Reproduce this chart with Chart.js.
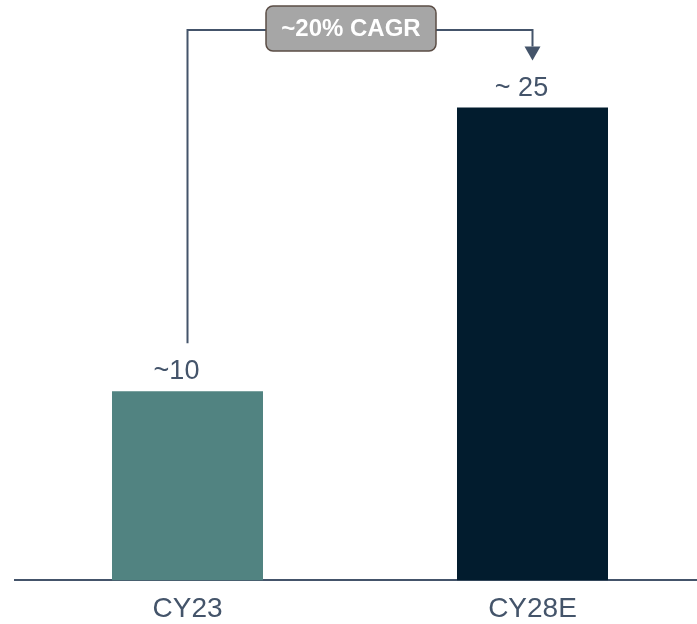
<!DOCTYPE html>
<html>
<head>
<meta charset="utf-8">
<script src="https://cdn.jsdelivr.net/npm/chart.js@4/dist/chart.umd.min.js"></script>
<style>
  html, body { margin: 0; padding: 0; background: #fff; overflow: hidden; }
  #wrap { width: 697px; height: 624px; overflow: hidden; }
</style>
</head>
<body>
<div id="wrap"><canvas id="chart" width="705" height="624"></canvas></div>
<script>
// chart data
const categories = ['CY23', 'CY28E'];
const values = [10, 25];
const valueLabels = ['~10', '~ 25'];
const barColors = ['#518381', '#021c2e'];
const cagrLabel = '~20% CAGR';

const textColor = '#44546a';
const fontFamily = '"Liberation Sans", Arial, sans-serif';

// value labels above each bar
const valueLabelPlugin = {
  id: 'valueLabels',
  afterDatasetsDraw(chart) {
    const ctx = chart.ctx;
    const meta = chart.getDatasetMeta(0);
    ctx.save();
    ctx.fillStyle = textColor;
    ctx.font = '27px ' + fontFamily;
    ctx.textAlign = 'center';
    ctx.textBaseline = 'alphabetic';
    meta.data.forEach((bar, i) => {
      ctx.fillText(valueLabels[i], bar.x - 11, bar.y - 12);
    });
    ctx.restore();
  }
};

// CAGR bracket with arrow and label box
const cagrPlugin = {
  id: 'cagr',
  afterDatasetsDraw(chart) {
    const ctx = chart.ctx;
    const meta = chart.getDatasetMeta(0);
    const a = meta.data[0], b = meta.data[1];
    const lineY = 30;
    const startY = a.y - 48;
    const tipY = b.y - 47;
    const headH = 14, headW = 8;

    ctx.save();
    ctx.strokeStyle = textColor;
    ctx.lineWidth = 2;
    ctx.beginPath();
    ctx.moveTo(a.x, startY);
    ctx.lineTo(a.x, lineY);
    ctx.lineTo(b.x, lineY);
    ctx.lineTo(b.x, tipY - headH);
    ctx.stroke();

    ctx.fillStyle = textColor;
    ctx.beginPath();
    ctx.moveTo(b.x - headW, tipY - headH);
    ctx.lineTo(b.x + headW, tipY - headH);
    ctx.lineTo(b.x, tipY);
    ctx.closePath();
    ctx.fill();

    // label box
    const cx = (a.x + b.x) / 2 - 9;
    const w = 170, h = 45;
    const x = cx - w / 2, y = 6;
    ctx.beginPath();
    ctx.roundRect(x, y, w, h, 7);
    ctx.fillStyle = '#a6a6a6';
    ctx.fill();
    ctx.lineWidth = 1.5;
    ctx.strokeStyle = '#5b4d45';
    ctx.stroke();

    ctx.fillStyle = '#ffffff';
    ctx.font = 'bold 24px ' + fontFamily;
    ctx.textAlign = 'center';
    ctx.textBaseline = 'middle';
    ctx.fillText(cagrLabel, cx, y + h / 2 + 1);
    ctx.restore();
  }
};

new Chart(document.getElementById('chart'), {
  type: 'bar',
  data: {
    labels: categories,
    datasets: [{
      data: values,
      backgroundColor: barColors,
      borderWidth: 0,
      categoryPercentage: 1,
      barPercentage: 0.4377
    }]
  },
  options: {
    responsive: false,
    animation: false,
    layout: { padding: { left: 15, right: 0, top: 13, bottom: -14 } },
    plugins: {
      legend: { display: false },
      tooltip: { enabled: false }
    },
    scales: {
      x: {
        grid: { display: false, drawTicks: false },
        border: { display: true, color: textColor, width: 2 },
        ticks: {
          color: textColor,
          font: { family: fontFamily, size: 28 },
          padding: 12
        }
      },
      y: {
        display: false,
        min: 0,
        max: 30
      }
    }
  },
  plugins: [valueLabelPlugin, cagrPlugin]
});
</script>
</body>
</html>
